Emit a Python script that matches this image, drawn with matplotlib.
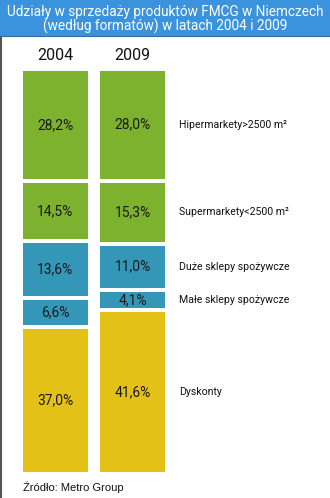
import matplotlib
matplotlib.use("Agg")
import matplotlib.pyplot as plt
import matplotlib.transforms as mtransforms
from matplotlib.patches import Rectangle
from matplotlib.lines import Line2D

years = ["2004", "2009"]
categories = ["Hipermarkety>2500 m²", "Supermarkety<2500 m²", "Duże sklepy spożywcze",
              "Małe sklepy spożywcze", "Dyskonty"]
values_2004 = [28.2, 14.5, 13.6, 6.6, 37.0]
values_2009 = [28.0, 15.3, 11.0, 4.1, 41.6]
colors = ["#7db22e", "#7db22e", "#3597b8", "#3597b8", "#e3c116"]
title_lines = ["Udziały w sprzedaży produktów FMCG w Niemczech",
               "(według formatów) w latach 2004 i 2009"]
source = "Źródło: Metro Group"

W, H = 330, 498
fig = plt.figure(figsize=(W / 100, H / 100), dpi=100)
fig.patch.set_facecolor("white")

FONT = ["Roboto", "DejaVu Sans"]
gap = 1.04
total = 100 + gap * (len(categories) - 1)

ax = fig.add_axes([23 / W, 26 / H, 142 / W, (472 - 70.7) / H])
ax.set_xlim(-0.422, 1.422)
ax.set_ylim(total, 0)
ax.axis("off")

width = 0.844
series = [values_2004, values_2009]
centers_2009 = []
for xi, vals in enumerate(series):
    top = 0.0
    for ci, v in enumerate(vals):
        ax.bar(xi, v, bottom=top, width=width, color=colors[ci], edgecolor="none")
        ax.text(xi, top + v / 2, f"{v:.1f}%".replace(".", ","), ha="center", va="center",
                fontsize=10, color="#1a1a1a", family=FONT)
        if xi == 1:
            centers_2009.append(top + v / 2)
        top += v + gap

# year labels
tr_year = mtransforms.blended_transform_factory(ax.transData, fig.transFigure)
for xi, y in enumerate(years):
    ax.text(xi, 1 - 55 / H, y, transform=tr_year, ha="center", va="center",
            fontsize=11.5, color="#111111", family=FONT)

# category labels on the right
tr_lab = mtransforms.blended_transform_factory(fig.transFigure, ax.transData)
for name, yc in zip(categories, centers_2009):
    ax.text(179 / W, yc, name, transform=tr_lab, ha="left", va="center",
            fontsize=7.6, color="#111111", family=FONT, clip_on=False)

# title banner
fig.patches.append(Rectangle((0, 1 - 36 / H), 1, 36 / H, transform=fig.transFigure,
                             facecolor="#3a93dc", edgecolor="none", zorder=0))
fig.lines.append(Line2D([0, 1], [1 - 36 / H, 1 - 36 / H], transform=fig.transFigure,
                        color="#2b6ea8", linewidth=0.8))
fig.text(0.5, 1 - 11.7 / H, title_lines[0], ha="center", va="center", color="white",
         fontsize=9.8, family=FONT)
fig.text(0.5, 1 - 26.7 / H, title_lines[1], ha="center", va="center", color="white",
         fontsize=9.8, family=FONT)

# left border
fig.lines.append(Line2D([1 / W, 1 / W], [0, 1 - 37 / H], transform=fig.transFigure,
                        color="#555555", linewidth=1.5))

fig.text(23 / W, 1 - 487 / H, source, ha="left", va="center", fontsize=8,
         color="#111111", family=["Liberation Sans", "DejaVu Sans"])

fig.savefig("out.png", dpi=100, facecolor="white")
